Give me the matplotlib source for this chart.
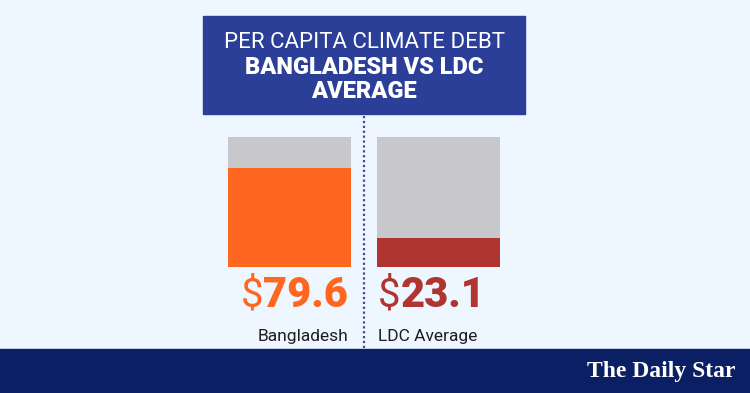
import matplotlib
matplotlib.use("Agg")
import matplotlib.pyplot as plt
from matplotlib.patches import Rectangle
from matplotlib.lines import Line2D

W, H = 750, 393
BG = "#eef6ff"
NAVY = "#0b2064"
TITLE_BLUE = "#2b3f98"
GRAY = "#c8c8cc"
DARK = "#1e1e1e"

# ---- data ----
countries = ["Bangladesh", "LDC Average"]
debt = [79.6, 23.1]
bar_colors = ["#ff6720", "#b03530"]
scale_max = 105
title_lines = ["PER CAPITA CLIMATE DEBT", "BANGLADESH VS LDC", "AVERAGE"]

SANS = ["Roboto", "DejaVu Sans"]

fig = plt.figure(figsize=(W / 100, H / 100), dpi=100)
fig.patch.set_facecolor(BG)

def fx(px): return px / W
def fy(py): return 1 - py / H

# footer band
fig.patches.append(Rectangle((0, 0), 1, fy(349), transform=fig.transFigure,
                             color=NAVY, zorder=0))
fig.text(fx(661), fy(371), "The Daily Star", color="white", fontsize=17,
         family="Liberation Serif", weight="bold", ha="center", va="center")

# title box
fig.patches.append(Rectangle((fx(203), fy(114)), fx(525) - fx(203), fy(16) - fy(114),
                             transform=fig.transFigure, color=TITLE_BLUE, zorder=1))
fig.text(fx(364), fy(42), title_lines[0], color="white", fontsize=16,
         family=SANS, weight="normal", ha="center", va="center")
fig.text(fx(364), fy(68), title_lines[1], color="white", fontsize=17,
         family=SANS, weight="heavy", ha="center", va="center")
fig.text(fx(364), fy(92), title_lines[2], color="white", fontsize=17,
         family=SANS, weight="heavy", ha="center", va="center")

# divider
fig.add_artist(Line2D([fx(364), fx(364)], [fy(116), fy(349)], transform=fig.transFigure,
                      color="#3b4c9e", lw=1.6, ls=(0, (1, 1.2))))

# bars
ax = fig.add_axes([fx(228), fy(266.7), fx(500) - fx(228), fy(137) - fy(266.7)])
ax.set_facecolor("none")
x = [0, 1]
w = 0.82
ax.bar(x, [scale_max] * 2, width=w, color=GRAY)
ax.bar(x, debt, width=w, color=bar_colors)
ax.set_xlim(-0.41, 1.41)
ax.set_ylim(0, scale_max)
ax.axis("off")

# value labels with lighter "$"
fig.canvas.draw()
r = fig.canvas.get_renderer()
num1 = fig.text(fx(348), fy(307), f"{debt[0]:.1f}", color=bar_colors[0], fontsize=30,
                family=SANS, weight="black", ha="right", va="baseline")
bb = num1.get_window_extent(r)
fig.text(bb.x0 / W, fy(307), r"\$", color=bar_colors[0], fontsize=29,
         family=SANS, ha="right", va="baseline")

dol = fig.text(fx(378), fy(307), r"\$", color=bar_colors[1], fontsize=29,
               family=SANS, ha="left", va="baseline")
bb = dol.get_window_extent(r)
fig.text(bb.x1 / W, fy(307), f"{debt[1]:.1f}", color=bar_colors[1], fontsize=30,
         family=SANS, weight="black", ha="left", va="baseline")

fig.text(fx(348), fy(336), countries[0], color=DARK, fontsize=12.5,
         family=SANS, ha="right", va="center")
fig.text(fx(378), fy(336), countries[1], color=DARK, fontsize=12.5,
         family=SANS, ha="left", va="center")

fig.savefig("out.png", dpi=100, facecolor=BG)
